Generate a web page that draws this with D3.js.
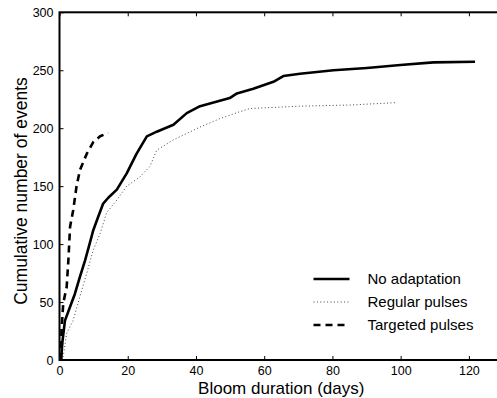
<!DOCTYPE html>
<html>
<head>
<meta charset="utf-8">
<script src="https://cdn.jsdelivr.net/npm/d3@7"></script>
<style>
  body { margin: 0; background: #fff; }
  text { font-family: "Liberation Sans", Arial, sans-serif; }
</style>
</head>
<body>
<script>
// values
const noAdaptDays = [0.5, 0.7, 0.9, 1.6, 3.1, 4.5, 6.0, 7.5, 8.9, 9.9, 11.4, 12.8, 14.3, 16.8, 19.7, 22.6, 25.6, 28.5, 33.4, 37.3, 41.2, 49.9, 52, 56.8, 62.7, 65.6, 70.5, 80.3, 90.1, 99.9, 109.6, 121.8];
const noAdaptCounts = [0, 10, 17, 34, 46, 57, 72, 86, 101, 112, 124, 135, 140, 147, 161, 178, 193, 197, 203, 213, 219, 226, 230, 234, 240, 245, 247, 250, 252, 254.5, 256.8, 257.3];

const regularDays = [0.5, 1.1, 2.1, 4.0, 6.0, 8.0, 9.9, 11.9, 13.8, 16.8, 19.7, 23.6, 26.5, 28.5, 33.4, 41.2, 46.8, 52.6, 55.9, 70.5, 85.2, 98.4];
const regularCounts = [0, 3, 23, 34, 55, 75, 95, 109, 127, 138, 150, 158, 167, 181, 190, 201, 208, 214, 217, 219, 220, 222];

const targetedDays = [0.4, 0.6, 1.1, 2.1, 2.6, 3.1, 4.0, 5.0, 6.0, 8.0, 9.9, 11.9, 14.3];
const targetedCounts = [0, 26, 49, 63, 86, 115, 129, 150, 164, 178, 188, 193, 196];

const seriesNames = ["No adaptation", "Regular pulses", "Targeted pulses"];
const xTicks = [0, 20, 40, 60, 80, 100, 120];
const yTicks = [0, 50, 100, 150, 200, 250, 300];

const width = 497, height = 398;
const svg = d3.select("body").append("svg")
    .attr("width", width)
    .attr("height", height);

const x = d3.scaleLinear().domain([0, 130]).range([59.5, 503]);
const y = d3.scaleLinear().domain([0, 300]).range([360, 12.3]);

const styles = [
    {stroke: "#000", width: 2.6, dash: null},
    {stroke: "#444", width: 1, dash: "1,2.4"},
    {stroke: "#000", width: 2.6, dash: "7,5"}
];

const series = [
    d3.zip(noAdaptDays, noAdaptCounts),
    d3.zip(regularDays, regularCounts),
    d3.zip(targetedDays, targetedCounts)
];

const line = d3.line().x(d => x(d[0])).y(d => y(d[1]));

series.forEach(function (s, i) {
    svg.append("path")
        .datum(s)
        .attr("d", line)
        .attr("fill", "none")
        .attr("stroke", styles[i].stroke)
        .attr("stroke-width", styles[i].width)
        .attr("stroke-dasharray", styles[i].dash)
        .attr("stroke-linejoin", "round");
});

// axes, ticks inward
const xAxis = d3.axisBottom(x).tickValues(xTicks).tickSize(-4).tickPadding(6);
const xTop = d3.axisTop(x).tickValues(xTicks).tickSize(-4).tickFormat("");
const yAxis = d3.axisLeft(y).tickValues(yTicks).tickSize(-4).tickPadding(6);

svg.append("g").attr("transform", "translate(0," + y(0) + ")").call(xAxis);
svg.append("g").attr("transform", "translate(0," + y(300) + ")").call(xTop);
svg.append("g").attr("transform", "translate(" + x(0) + ",0)").call(yAxis);

svg.selectAll(".domain").remove();
svg.selectAll(".tick line").attr("stroke", "#000").attr("stroke-width", 1);
svg.selectAll(".tick text")
    .attr("font-size", 12.5)
    .attr("fill", "#000")
    .style("font-family", "'Liberation Sans', Arial, sans-serif");

svg.append("rect")
    .attr("x", x(0))
    .attr("y", y(300))
    .attr("width", x(130) - x(0))
    .attr("height", y(0) - y(300))
    .attr("fill", "none")
    .attr("stroke", "#000")
    .attr("stroke-width", 2);

svg.append("text")
    .attr("x", (x(0) + x(130)) / 2)
    .attr("y", 393.5)
    .attr("text-anchor", "middle")
    .attr("font-size", 17)
    .text("Bloom duration (days)");

svg.append("text")
    .attr("transform", "translate(27,191) rotate(-90)")
    .attr("text-anchor", "middle")
    .attr("font-size", 17.5)
    .text("Cumulative number of events");

// legend
const legend = svg.append("g");
seriesNames.forEach(function (name, i) {
    const ly = 279 + i * 23;
    legend.append("line")
        .attr("x1", 313.5).attr("x2", 349.5)
        .attr("y1", ly).attr("y2", ly)
        .attr("stroke", styles[i].stroke)
        .attr("stroke-width", styles[i].width)
        .attr("stroke-dasharray", styles[i].dash);
    legend.append("text")
        .attr("x", 367.5)
        .attr("y", ly + 5.3)
        .attr("font-size", 15)
        .text(name);
});
</script>
</body>
</html>
